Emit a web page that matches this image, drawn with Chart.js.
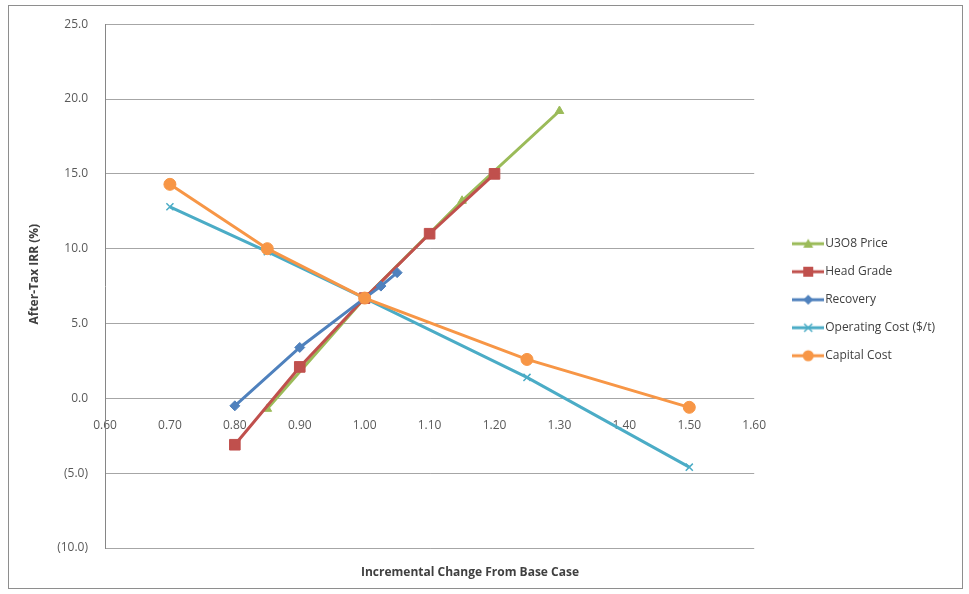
<!DOCTYPE html>
<html>
<head>
<meta charset="utf-8">
<script src="https://cdn.jsdelivr.net/npm/chart.js@4.4.0/dist/chart.umd.min.js"></script>
<style>
  html, body { margin: 0; padding: 0; background: #fff; }
  #wrap { position: relative; width: 969px; height: 594px; }
  #frame { position: absolute; left: 8px; top: 5px; width: 953px; height: 582px; border: 1px solid #8e8e8e; pointer-events: none; }
  canvas { position: absolute; left: 0; top: 0; }
</style>
</head>
<body>
<div id="wrap">
  <canvas id="myChart" width="969" height="594"></canvas>
  <div id="frame"></div>
</div>
<script>
  // Series values
  const u3o8X = [0.85, 1.00, 1.15, 1.30]
  const u3o8Y = [-0.7, 6.7, 13.2, 19.2]
  const gradeX = [0.80, 0.90, 1.00, 1.10, 1.20]
  const gradeY = [-3.1, 2.1, 6.7, 11.0, 15.0]
  const recoveryX = [0.80, 0.90, 1.00, 1.025, 1.05]
  const recoveryY = [-0.5, 3.4, 6.7, 7.5, 8.4]
  const opCostX = [0.70, 0.85, 1.00, 1.25, 1.50]
  const opCostY = [12.8, 9.8, 6.7, 1.4, -4.6]
  const capCostX = [0.70, 0.85, 1.00, 1.25, 1.50]
  const capCostY = [14.3, 10.0, 6.7, 2.6, -0.6]

  const seriesNames = ['U3O8 Price', 'Head Grade', 'Recovery', 'Operating Cost ($/t)', 'Capital Cost']
  const xTitle = 'Incremental Change From Base Case'
  const yTitle = 'After-Tax IRR (%)'

  const toPoints = (xs, ys) => xs.map((x, i) => ({ x: x, y: ys[i] }))

  const series = [
    { name: seriesNames[0], pts: toPoints(u3o8X, u3o8Y), color: '#9bbb59', style: 'triangle', r: 5 },
    { name: seriesNames[1], pts: toPoints(gradeX, gradeY), color: '#c0504d', style: 'rect', r: 7.5 },
    { name: seriesNames[2], pts: toPoints(recoveryX, recoveryY), color: '#4f81bd', style: 'rectRot', r: 5 },
    { name: seriesNames[3], pts: toPoints(opCostX, opCostY), color: '#4bacc6', style: 'crossRot', r: 5 },
    { name: seriesNames[4], pts: toPoints(capCostX, capCostY), color: '#f79646', style: 'circle', r: 6 }
  ]

  // little line+marker icons for the legend, like Excel draws them
  function makeIcon(color, style) {
    const c = document.createElement('canvas')
    c.width = 32
    c.height = 14
    const g = c.getContext('2d')
    g.strokeStyle = color
    g.fillStyle = color
    g.lineWidth = 3
    g.beginPath()
    g.moveTo(0, 7)
    g.lineTo(32, 7)
    g.stroke()
    g.lineWidth = 1.5
    g.beginPath()
    if (style === 'triangle') {
      g.moveTo(16, 2); g.lineTo(21, 11); g.lineTo(11, 11); g.closePath(); g.fill()
    } else if (style === 'rect') {
      g.fillRect(11, 2, 10, 10)
    } else if (style === 'rectRot') {
      g.moveTo(16, 2); g.lineTo(21, 7); g.lineTo(16, 12); g.lineTo(11, 7); g.closePath(); g.fill()
    } else if (style === 'crossRot') {
      g.moveTo(12, 3); g.lineTo(20, 11); g.moveTo(20, 3); g.lineTo(12, 11); g.stroke()
    } else {
      g.arc(16, 7, 5.5, 0, Math.PI * 2); g.fill()
    }
    return c
  }
  const icons = series.map(s => makeIcon(s.color, s.style))

  // reversed so that Capital Cost ends up drawn on top, legend flips back
  const datasets = series.slice().reverse().map(s => ({
    label: s.name,
    data: s.pts,
    borderColor: s.color,
    backgroundColor: s.color,
    borderWidth: 3,
    pointStyle: s.style,
    pointRadius: s.r,
    pointBorderWidth: s.style === 'crossRot' ? 1.5 : 1,
    pointBackgroundColor: s.color,
    pointBorderColor: s.color,
    tension: 0,
    fill: false
  }))

  const fontFamily = '"Open Sans", "Liberation Sans", sans-serif'

  // axis titles sit where Excel put them, not centred on the plot
  const axisTitles = {
    id: 'axisTitles',
    afterDraw(chart) {
      const c = chart.ctx
      const a = chart.chartArea
      c.save()
      c.fillStyle = '#404040'
      c.font = 'bold 12px ' + fontFamily
      c.textAlign = 'center'
      c.textBaseline = 'middle'
      c.fillText(xTitle, a.left + 365, a.bottom + 25)
      c.translate(35, a.top + 250)
      c.rotate(-Math.PI / 2)
      c.fillText(yTitle, 0, 0)
      c.restore()
    }
  }

  const ctx = document.getElementById('myChart')
  // eslint-disable-next-line no-unused-vars
  const myChart = new Chart(ctx, {
    type: 'line',
    data: { datasets: datasets },
    plugins: [axisTitles],
    options: {
      responsive: false,
      animation: false,
      layout: { padding: { left: 20, top: 15, right: 24, bottom: 46 } },
      scales: {
        x: {
          type: 'linear',
          position: { y: 0 },
          min: 0.6,
          max: 1.6,
          grid: { display: false },
          border: { display: false },
          ticks: {
            stepSize: 0.1,
            padding: 12,
            color: '#595959',
            font: { family: fontFamily, size: 12 },
            callback: v => v.toFixed(2),
            maxRotation: 0
          }
        },
        y: {
          min: -10,
          max: 25,
          afterFit: s => { s.width = 85 },
          grid: { color: '#a6a6a6', lineWidth: 1, drawTicks: false },
          border: { color: '#868686', width: 1 },
          ticks: {
            stepSize: 5,
            padding: 17,
            color: '#595959',
            font: { family: fontFamily, size: 12 },
            callback: v => v < 0 ? '(' + Math.abs(v).toFixed(1) + ')' : v.toFixed(1)
          }
        },
        // empty spacer between plot and legend
        gap: {
          type: 'linear',
          position: 'right',
          display: true,
          afterFit: s => { s.width = 27 },
          grid: { display: false },
          border: { display: false },
          ticks: { display: false }
        }
      },
      plugins: {
        tooltip: { enabled: false },
        legend: {
          position: 'right',
          reverse: true,
          maxWidth: 230,
          // empty title only pushes the entries down a little
          title: { display: true, text: '', padding: { top: 11, bottom: 11 }, font: { size: 12 } },
          labels: {
            usePointStyle: true,
            pointStyleWidth: 22,
            padding: 16,
            color: '#404040',
            font: { family: fontFamily, size: 12 },
            generateLabels: chart => {
              const items = Chart.defaults.plugins.legend.labels.generateLabels(chart)
              items.forEach(it => {
                const idx = seriesNames.indexOf(it.text)
                it.pointStyle = icons[idx]
              })
              return items
            }
          }
        }
      }
    }
  })
</script>
</body>
</html>
